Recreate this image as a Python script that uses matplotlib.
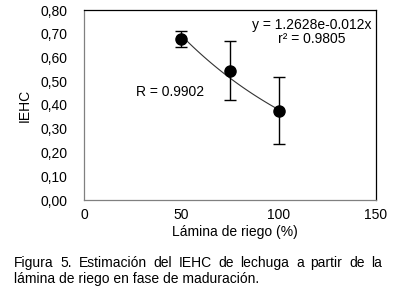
import numpy as np
import matplotlib.pyplot as plt

plt.rcParams["font.family"] = ["Liberation Sans", "DejaVu Sans"]

# Data
lamina = [50, 75, 100]
iehc = [0.678, 0.545, 0.375]
err_low = [0.034, 0.122, 0.139]
err_high = [0.035, 0.123, 0.143]

# Exponential trendline coefficients (as printed on the chart)
fit_a = 1.2628
fit_b = -0.012

xticks = [0, 50, 100, 150]
yticks = [0.0, 0.1, 0.2, 0.3, 0.4, 0.5, 0.6, 0.7, 0.8]

caption_1 = "Figura 5. Estimación del IEHC de lechuga a partir de la"
caption_2 = "lámina de riego en fase de maduración."

FS = 10

fig = plt.figure(figsize=(3.96, 2.90), dpi=100)
ax = fig.add_axes([84 / 396, 90 / 290, 292 / 396, 190 / 290])

xs = np.linspace(min(lamina), max(lamina), 100)
ax.plot(xs, fit_a * np.exp(fit_b * xs), color="#333333", lw=0.8, zorder=2)
ax.errorbar(lamina, iehc, yerr=[err_low, err_high], fmt="o", color="black",
            ms=8, elinewidth=1, capsize=4, capthick=1, zorder=3)

ax.set_xlim(0, 150)
ax.set_ylim(0, 0.8)
ax.set_xticks(xticks)
ax.set_yticks(yticks)
ax.set_yticklabels(["{:.2f}".format(v).replace(".", ",") for v in yticks])
ax.tick_params(length=0, labelsize=FS)
ax.tick_params(axis="y", pad=12)
ax.tick_params(axis="x", pad=6)

for side in ["top", "right"]:
    ax.spines[side].set_color("black")
for side in ["left", "bottom"]:
    ax.spines[side].set_color("#808080")
for s in ax.spines.values():
    s.set_linewidth(0.9)

ax.set_ylabel("IEHC", fontsize=FS, labelpad=6)
ax.text(0.517, -0.168, "Lámina de riego (%)", transform=ax.transAxes,
        ha="center", va="center", fontsize=FS)

ax.text(0.985, 0.921, "y = 1.2628e-0.012x", transform=ax.transAxes,
        ha="right", va="center", fontsize=FS)
ax.text(0.78, 0.845, "r² = 0.9805", transform=ax.transAxes,
        ha="center", va="center", fontsize=FS)
ax.text(0.295, 0.568, "R = 0.9902", transform=ax.transAxes,
        ha="center", va="center", fontsize=FS)

# caption: first line justified between x=14 and x=382 px
renderer = fig.canvas.get_renderer()
words = caption_1.split()
arts = [fig.text(0, 1 - 263 / 290, w, ha="left", va="center", fontsize=FS)
        for w in words]
widths = [a.get_window_extent(renderer).width for a in arts]
gap = (382 - 14 - sum(widths)) / (len(words) - 1)
x = 14
for a, w in zip(arts, widths):
    a.set_x(x / 396)
    x += w + gap
fig.text(14 / 396, 1 - 279 / 290, caption_2, ha="left", va="center", fontsize=FS)

fig.savefig("out.png", dpi=100)
